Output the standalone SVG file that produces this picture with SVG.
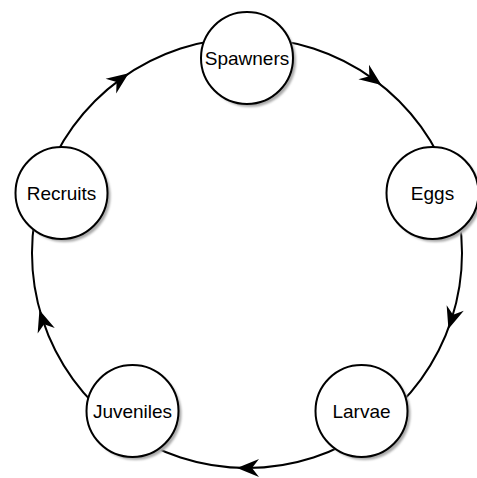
<svg xmlns="http://www.w3.org/2000/svg" width="477" height="478" viewBox="0 0 477 478">
<style>
.arc{fill:none;stroke:#000;stroke-width:2;marker-mid:url(#arr)}
.node{fill:#fff;stroke:#000;stroke-width:2}
.shadow{fill:#aaa;filter:url(#blur)}
.lbl{font-family:"Liberation Sans",Arial,sans-serif;font-size:19px;fill:#000;text-anchor:middle}
</style>
<defs>
<marker id="arr" markerUnits="userSpaceOnUse" orient="auto" refX="-10" refY="0" markerWidth="1" markerHeight="1" overflow="visible">
<path d="M0,0 L-22,-9 L-15,0 L-22,9 Z" fill="#000"/>
</marker>
<filter id="blur" x="-20%" y="-20%" width="140%" height="140%"><feGaussianBlur stdDeviation="1"/></filter>
</defs>
<rect width="477" height="478" fill="#fff"/>
<g id="connectors">
<path class="arc" d="M247,38 A215,215 0 0 1 373.4,79.1 A215,215 0 0 1 451.5,186.6"/>
<path class="arc" d="M451.5,186.6 A215,215 0 0 1 451.5,319.4 A215,215 0 0 1 373.4,426.9"/>
<path class="arc" d="M373.4,426.9 A215,215 0 0 1 247,468 A215,215 0 0 1 120.6,426.9"/>
<path class="arc" d="M120.6,426.9 A215,215 0 0 1 42.5,319.4 A215,215 0 0 1 42.5,186.6"/>
<path class="arc" d="M42.5,186.6 A215,215 0 0 1 120.6,79.1 A215,215 0 0 1 247,38"/>
</g>
<g id="spawners">
<circle class="shadow" cx="250" cy="61" r="46"/>
<circle class="node" cx="247" cy="58" r="46"/>
<text class="lbl" x="247" y="65">Spawners</text>
</g>
<g id="eggs">
<circle class="shadow" cx="435.5" cy="196" r="46"/>
<circle class="node" cx="432.5" cy="193" r="46"/>
<text class="lbl" x="432.5" y="200">Eggs</text>
</g>
<g id="larvae">
<circle class="shadow" cx="364.5" cy="414" r="46"/>
<circle class="node" cx="361.5" cy="411" r="46"/>
<text class="lbl" x="361.5" y="418">Larvae</text>
</g>
<g id="juveniles">
<circle class="shadow" cx="135.5" cy="414" r="46"/>
<circle class="node" cx="132.5" cy="411" r="46"/>
<text class="lbl" x="132.5" y="418">Juveniles</text>
</g>
<g id="recruits">
<circle class="shadow" cx="64.5" cy="196" r="46"/>
<circle class="node" cx="61.5" cy="193" r="46"/>
<text class="lbl" x="61.5" y="200">Recruits</text>
</g>
</svg>
